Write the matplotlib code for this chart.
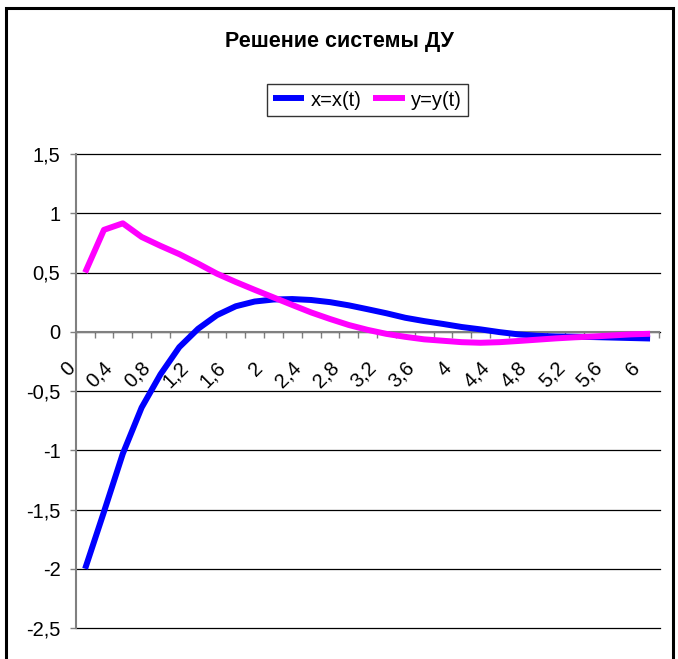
import numpy as np
import matplotlib
matplotlib.use("Agg")
import matplotlib.pyplot as plt
from matplotlib.transforms import ScaledTranslation
from matplotlib.patches import Rectangle

plt.rcParams['font.family'] = ['Liberation Sans', 'DejaVu Sans']

# Time grid (categories) and the two solution components
t_values = [0.0, 0.2, 0.4, 0.6, 0.8, 1.0, 1.2, 1.4, 1.6, 1.8,
            2.0, 2.2, 2.4, 2.6, 2.8, 3.0, 3.2, 3.4, 3.6, 3.8,
            4.0, 4.2, 4.4, 4.6, 4.8, 5.0, 5.2, 5.4, 5.6, 5.8, 6.0]

x_values = [-2.0, -1.52, -1.03, -0.64, -0.36, -0.13, 0.025, 0.14, 0.215, 0.255,
            0.272, 0.276, 0.268, 0.25, 0.223, 0.19, 0.156, 0.118, 0.09, 0.066,
            0.04, 0.02, -0.003, -0.022, -0.034, -0.04, -0.042, -0.045, -0.049, -0.053,
            -0.057]

y_values = [0.5, 0.86, 0.915, 0.80, 0.725, 0.655, 0.575, 0.49, 0.42, 0.354,
            0.29, 0.226, 0.163, 0.108, 0.057, 0.016, -0.018, -0.043, -0.064, -0.076,
            -0.088, -0.093, -0.088, -0.078, -0.067, -0.056, -0.047, -0.04, -0.031, -0.022,
            -0.017]

y_ticks = [-2.5, -2.0, -1.5, -1.0, -0.5, 0.0, 0.5, 1.0, 1.5]
y_tick_labels = ['-2,5', '-2', '-1,5', '-1', '-0,5', '0', '0,5', '1', '1,5']

title = 'Решение системы ДУ'
series_names = ['x=x(t)', 'y=y(t)']


def t_label(v):
    return f"{v:g}".replace('.', ',')


W, H = 678, 659
fig = plt.figure(figsize=(W / 100, H / 100), dpi=100)
fig.patch.set_facecolor('white')

ax = fig.add_axes([75.7 / W, 31 / H, (659.5 - 75.7) / W, (628 - 154) / H])
pos = np.arange(len(t_values))

ax.plot(pos, x_values, color='#0000FF', lw=4.3, label=series_names[0],
        solid_joinstyle='round', solid_capstyle='butt', zorder=3)
ax.plot(pos, y_values, color='#FF00FF', lw=4.3, label=series_names[1],
        solid_joinstyle='round', solid_capstyle='butt', zorder=3)

ax.set_xlim(-0.5, len(t_values) - 0.5)
ax.set_ylim(-2.5, 1.5)

# Horizontal gridlines
ax.set_yticks(y_ticks)
ax.set_yticklabels(y_tick_labels)
ax.yaxis.grid(True, color='black', lw=0.9)
for gl in ax.yaxis.get_gridlines():
    gl.set_clip_on(False)
ax.set_axisbelow(True)

for side in ('top', 'right'):
    ax.spines[side].set_visible(False)
ax.spines['left'].set_color('#808080')
ax.spines['left'].set_linewidth(1.5)
ax.spines['bottom'].set_position(('data', 0))
ax.spines['bottom'].set_color('#808080')
ax.spines['bottom'].set_linewidth(1.5)

# Category boundary ticks on the zero line
ax.set_xticks(np.arange(-0.5, len(t_values), 1.0))
ax.set_xticklabels([])
ax.tick_params(axis='x', direction='out', length=4.5, color='#808080', width=1)
ax.tick_params(axis='y', direction='out', length=4.5, color='#808080', width=1,
               pad=6.5, labelsize=14.5)

# Rotated category labels (every second point)
shift = ScaledTranslation(-13 / 100, -33 / 100, fig.dpi_scale_trans)
for i in range(0, len(t_values), 2):
    ax.text(i, 0, t_label(t_values[i]), transform=ax.transData + shift,
            rotation=45, rotation_mode='anchor', ha='right', va='center',
            fontsize=14.5)

fig.text(339.7 / W, 1 - 42 / H, title, ha='center', va='center',
         fontsize=15.5, fontweight='bold')

leg = fig.legend(loc='center', bbox_to_anchor=(367.3 / W, 1 - 100 / H), ncol=2,
                 frameon=True, fancybox=False, edgecolor='black', fontsize=14.5,
                 handlelength=1.55, handletextpad=0.3, columnspacing=0.6,
                 borderpad=0.3)
leg.get_frame().set_linewidth(1.0)

# Outer chart border
fig.add_artist(Rectangle((6 / W, -0.02), (672.5 - 6) / W, (1 - 8 / H) + 0.02,
                         transform=fig.transFigure, fill=False,
                         edgecolor='black', lw=2.2))

fig.savefig('out.png', dpi=100)
